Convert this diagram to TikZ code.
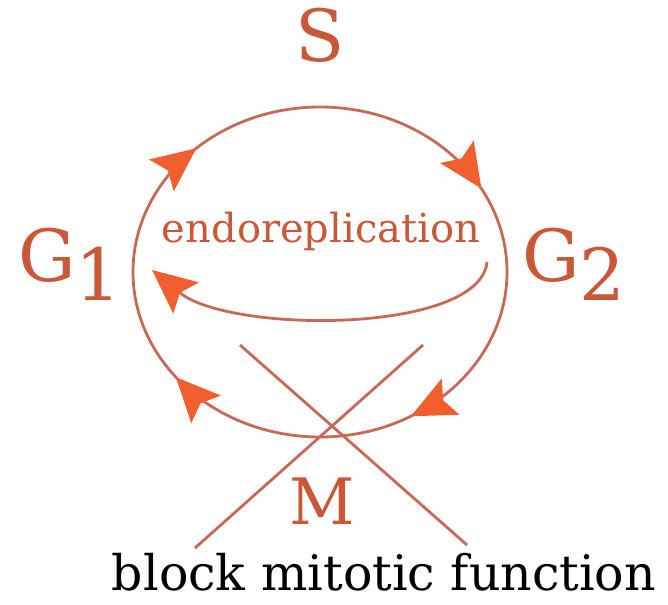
\documentclass[tikz,border=0pt]{standalone}
\usepackage{fontspec}
\setmainfont{DejaVu Serif}
\usepackage{tikz}
\usetikzlibrary{arrows.meta,decorations.markings}

\definecolor{cycline}{RGB}{200,105,85}
\definecolor{cychead}{RGB}{240,95,45}
\definecolor{cyctext}{RGB}{200,88,55}

\begin{document}
\begin{tikzpicture}[
    x=1pt, y=1pt,
    phase/.style={text=cyctext, inner sep=0pt, font=\fontsize{72}{72}\selectfont},
    cycarc/.style={draw=cycline, line width=2.8pt, postaction={decorate},
        decoration={markings, mark=at position #1 with {\arrow{Stealth[length=44pt,width=40pt,inset=8pt,color=cychead]}}}},
    endoloop/.style={draw=cycline, line width=2.8pt, -{Stealth[length=44pt,width=40pt,inset=8pt,color=cychead]}},
    blockline/.style={draw=cycline, line width=2.8pt}
]
\useasboundingbox (0,0) rectangle (668,604);

% points of the cycle
\coordinate (pG1) at (133,332);
\coordinate (pS) at (320,497);
\coordinate (pG2) at (507,332);
\coordinate (pM) at (320,167);

\draw[cycarc=0.52] (pG1) arc[start angle=180, end angle=90, x radius=187pt, y radius=165pt];
\draw[cycarc=0.68] (pS) arc[start angle=90, end angle=0, x radius=187pt, y radius=165pt];
\draw[cycarc=0.66] (pG2) arc[start angle=0, end angle=-90, x radius=187pt, y radius=165pt];
\draw[cycarc=0.58] (pM) arc[start angle=270, end angle=180, x radius=187pt, y radius=165pt];

\node[phase, anchor=base] (S) at (320,542) {S};
\node[phase, anchor=base west] (G1) at (18,322) {G\raisebox{-19pt}{1}};
\node[phase, anchor=base west] (G2) at (522,322) {G\raisebox{-19pt}{2}};
\node[phase, anchor=base, font=\fontsize{64}{64}\selectfont] (M) at (322,79) {M};

% endoreplication loop
\node[text=cyctext, inner sep=0pt, anchor=base, font=\fontsize{40}{40}\selectfont] (endo) at (321,361) {endoreplication};
\coordinate (endoR) at (487,342);
\coordinate (endoL) at (152,334);
\draw[endoloop] (endoR) .. controls (480,270) and (230,270) .. (endoL);

% blocked mitosis
\coordinate (xa1) at (240,259);
\coordinate (xa2) at (467,59);
\coordinate (xb1) at (423,259);
\coordinate (xb2) at (195,56);
\draw[blockline] (xa1) -- (xa2);
\draw[blockline] (xb1) -- (xb2);
\node[inner sep=0pt, anchor=base, font=\fontsize{49}{49}\selectfont] (block) at (384,13) {block mitotic function};
\end{tikzpicture}
\end{document}
